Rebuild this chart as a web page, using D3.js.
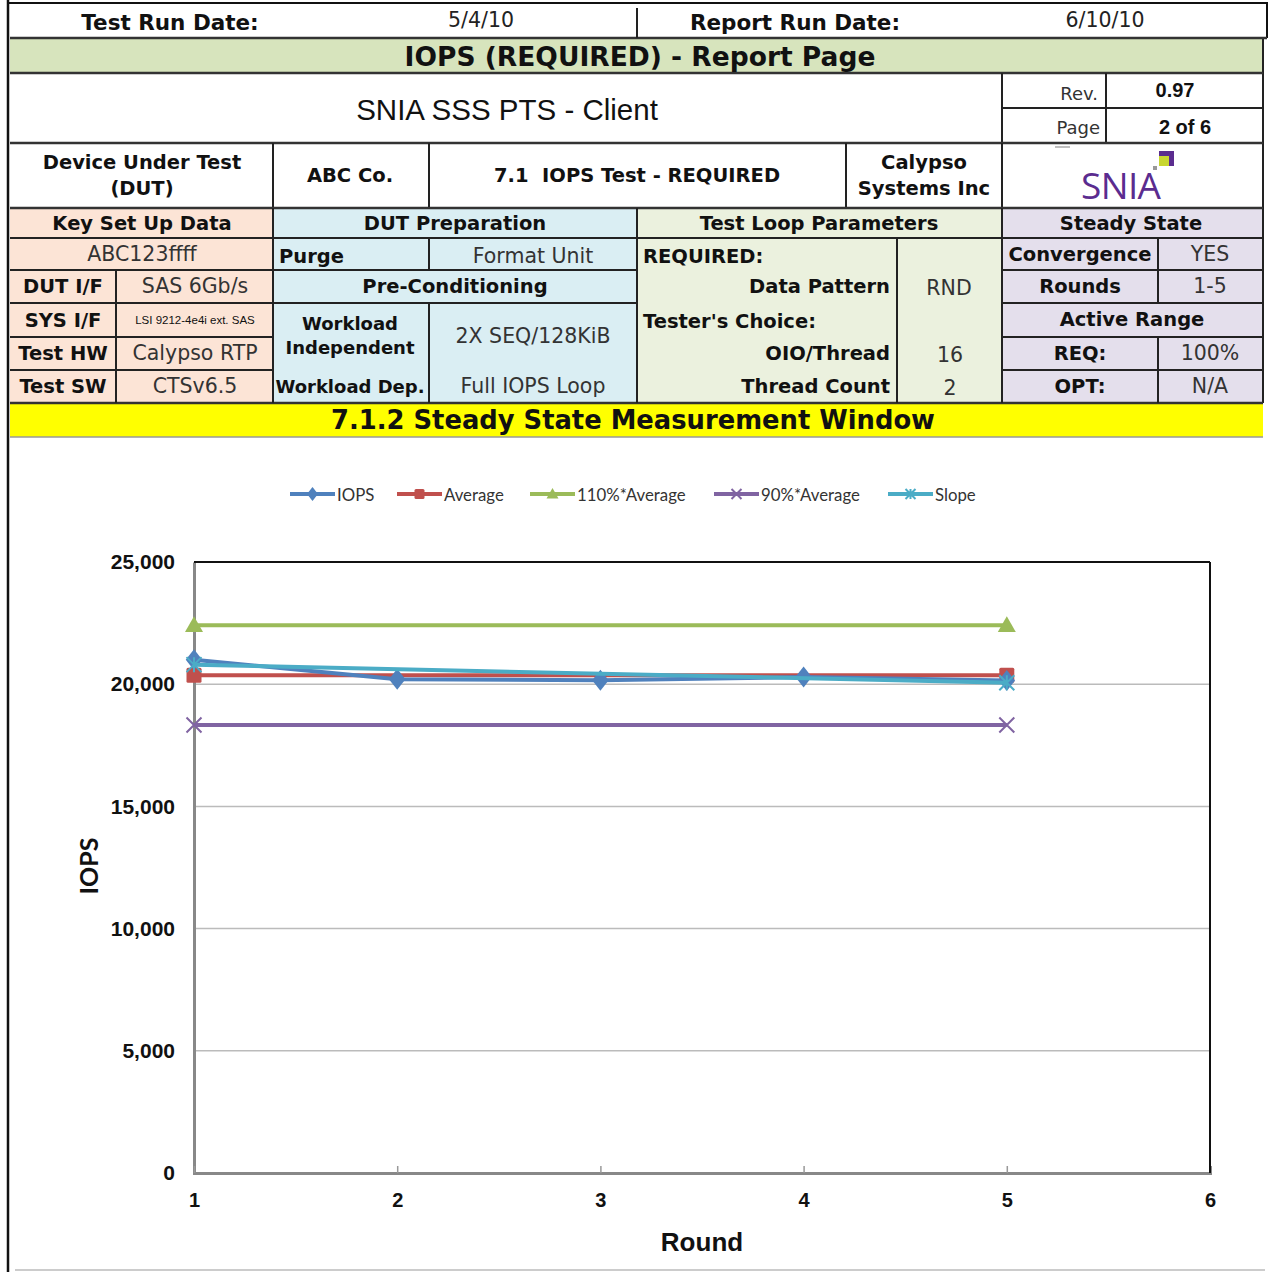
<!DOCTYPE html>
<html><head><meta charset="utf-8">
<script src="https://cdn.jsdelivr.net/npm/d3@7"></script>
<style>body{margin:0;background:#fff}svg{display:block}text{white-space:pre}</style>
</head><body><svg id="c" width="1270" height="1272"></svg>
<script>
// ---- chart data ----
const rounds = [1, 2, 3, 4, 5];
const iops = [21000, 20200, 20160, 20290, 20150];
const endRounds = [1, 5];
const average = [20370, 20370];
const avg110 = [22407, 22407];
const avg90 = [18333, 18333];
const slope = [20800, 20060];
const seriesNames = ["IOPS", "Average", "110%*Average", "90%*Average", "Slope"];
const yTicks = [0, 5000, 10000, 15000, 20000, 25000];
const xTicks = [1, 2, 3, 4, 5, 6];

const svg = d3.select("#c");
const VER = "'DejaVu Sans', Verdana, sans-serif";
const ARI = "'Liberation Sans', Arial, sans-serif";
const NAR = "'Liberation Sans Narrow', 'Liberation Sans', Arial, sans-serif";
const CAL = "Lato, 'Open Sans', sans-serif";

function rect(x, y, w, h, fill) { svg.append("rect").attr("x", x).attr("y", y).attr("width", w).attr("height", h).attr("fill", fill); }
function line(x1, y1, x2, y2, c, w) { svg.append("line").attr("x1", x1).attr("y1", y1).attr("x2", x2).attr("y2", y2).attr("stroke", c || "#222").attr("stroke-width", w || 2); }
function txt(x, y, s, o) {
  o = o || {};
  return svg.append("text").attr("x", x).attr("y", y).text(s)
    .attr("font-family", o.f || VER).attr("font-size", o.s || 19.5)
    .attr("font-weight", o.b ? "bold" : "normal")
    .attr("text-anchor", o.a || "middle").attr("dominant-baseline", "central")
    .attr("fill", o.c || "#111");
}

// ---- header table ----
rect(10, 39, 1253, 34, "#D7E4BD");
rect(10, 208, 263, 195, "#FCE4D6");
rect(273, 208, 364, 195, "#DAEEF3");
rect(637, 208, 365, 195, "#EBF1DE");
rect(1002, 208, 261, 195, "#E4DFEC");
rect(10, 403, 1253, 34, "#FFFF00");

// outer borders
line(8, 0, 8, 1272, "#111", 2.5);
line(8, 3, 1268, 3, "#111", 2);
line(1267, 3, 1267, 38, "#111", 2);
line(1263, 38, 1263, 403, "#222", 2);
line(15, 1270, 1265, 1270, "#ccc", 2);

// row lines
line(10, 38, 1267, 38, "#333", 2.5);
line(10, 73, 1263, 73, "#333", 2.5);
line(637, 8, 637, 38);
line(1002, 73, 1002, 143);
line(1106, 73, 1106, 143);
line(1002, 108, 1263, 108);
line(10, 143, 1263, 143, "#333", 2.5);
[273, 429, 846, 1002].forEach(x => line(x, 143, x, 208));
line(10, 208, 1263, 208, "#333", 2.5);
line(10, 238, 1263, 238);
[270, 303].forEach(y => { line(10, y, 637, y); line(1002, y, 1263, y); });
[337, 370].forEach(y => { line(10, y, 273, y); line(1002, y, 1263, y); });
line(10, 403, 1263, 403, "#333", 2.5);
line(10, 437, 1263, 437, "#999", 1.5);
[273, 637, 1002].forEach(x => line(x, 208, x, 403));
line(116, 270, 116, 403);
line(429, 238, 429, 270);
line(429, 303, 429, 403);
line(897, 238, 897, 403);
line(1158, 238, 1158, 303);
line(1158, 337, 1158, 403);

// row texts
txt(170, 22, "Test Run Date:", {b: 1, s: 21.5});
txt(481, 20, "5/4/10", {s: 20.5, c: "#222"});
txt(795, 22, "Report Run Date:", {b: 1, s: 21.5});
txt(1105, 20, "6/10/10", {s: 20.5, c: "#222"});
txt(640, 56, "IOPS (REQUIRED) - Report Page", {b: 1, s: 26.5});
txt(507, 109, "SNIA SSS PTS - Client", {f: ARI, s: 29.5});
txt(1098, 93, "Rev.", {a: "end", s: 18, c: "#333"});
txt(1175, 90, "0.97", {f: ARI, b: 1, s: 20});
txt(1100, 127, "Page", {a: "end", s: 18, c: "#333"});
txt(1185, 127, "2 of 6", {f: ARI, b: 1, s: 20});
txt(142, 162, "Device Under Test", {b: 1});
txt(142, 188, "(DUT)", {b: 1});
txt(350, 175, "ABC Co.", {b: 1});
txt(637, 175, "7.1  IOPS Test - REQUIRED", {b: 1});
txt(924, 162, "Calypso", {b: 1});
txt(924, 188, "Systems Inc", {b: 1});
// SNIA logo
svg.append("text").attr("x", 1121).attr("y", 199).text("SNIA").attr("font-family", "'Open Sans', Lato, sans-serif")
  .attr("font-size", 37).attr("text-anchor", "middle").attr("fill", "#5B2C8F").attr("textLength", 80);
rect(1159, 151, 15, 15, "#5B2C8F");
rect(1159, 156, 10, 10, "#C8D630");
rect(1153, 166, 4, 4, "#999");
line(1055, 147, 1070, 147, "#aaa", 1.5);

// section contents
const V = {s: 20.5, c: "#333"};
txt(142, 223, "Key Set Up Data", {b: 1});
txt(142, 254, "ABC123ffff", V);
txt(63, 286, "DUT I/F", {b: 1});
txt(195, 286, "SAS 6Gb/s", V);
txt(63, 320, "SYS I/F", {b: 1});
txt(195, 320, "LSI 9212-4e4i ext. SAS", {f: ARI, s: 11.5});
txt(63, 353, "Test HW", {b: 1});
txt(195, 353, "Calypso RTP", V);
txt(63, 386, "Test SW", {b: 1});
txt(195, 386, "CTSv6.5", V);

txt(455, 223, "DUT Preparation", {b: 1});
txt(279, 256, "Purge", {b: 1, a: "start"});
txt(533, 256, "Format Unit", V);
txt(455, 286, "Pre-Conditioning", {b: 1});
txt(350, 323, "Workload", {b: 1, s: 18});
txt(350, 347, "Independent", {b: 1, s: 18});
txt(533, 336, "2X SEQ/128KiB", V);
txt(350, 386, "Workload Dep.", {b: 1, s: 18});
txt(533, 386, "Full IOPS Loop", V);

txt(819, 223, "Test Loop Parameters", {b: 1});
txt(643, 256, "REQUIRED:", {b: 1, a: "start"});
txt(890, 286, "Data Pattern", {b: 1, a: "end"});
txt(949, 288, "RND", V);
txt(643, 321, "Tester's Choice:", {b: 1, a: "start"});
txt(890, 353, "OIO/Thread", {b: 1, a: "end"});
txt(950, 355, "16", V);
txt(890, 386, "Thread Count", {b: 1, a: "end"});
txt(950, 388, "2", V);

txt(1131, 223, "Steady State", {b: 1});
txt(1080, 254, "Convergence", {b: 1});
txt(1210, 254, "YES", V);
txt(1080, 286, "Rounds", {b: 1});
txt(1210, 286, "1-5", V);
txt(1132, 319, "Active Range", {b: 1});
txt(1080, 353, "REQ:", {b: 1});
txt(1210, 353, "100%", V);
txt(1080, 386, "OPT:", {b: 1});
txt(1210, 386, "N/A", V);

txt(633, 420, "7.1.2 Steady State Measurement Window", {b: 1, s: 25.8});

// ---- chart ----
const x = d3.scaleLinear().domain([1, 6]).range([194, 1210]);
const y = d3.scaleLinear().domain([0, 25000]).range([1173, 562]);
const g = svg.append("g");

// gridlines
g.selectAll(".grid").data(yTicks.filter(t => t > 0 && t < 25000)).enter().append("line")
  .attr("x1", x(1)).attr("x2", x(6)).attr("y1", d => y(d)).attr("y2", d => y(d))
  .attr("stroke", "#bbb").attr("stroke-width", 1.5);
line(x(1), y(25000), x(6), y(25000), "#111", 2);
line(x(6), y(25000), x(6), y(0), "#111", 2);

// axes
const yAxis = g.append("g").attr("transform", `translate(${x(1)},0)`)
  .call(d3.axisLeft(y).tickValues(yTicks).tickFormat(d3.format(",")).tickSize(0).tickPadding(19));
yAxis.select(".domain").attr("stroke", "#888").attr("stroke-width", 3);
yAxis.selectAll("text").attr("font-family", ARI).attr("font-weight", "bold").attr("font-size", 21).attr("fill", "#111");

const xAxis = g.append("g").attr("transform", `translate(0,${y(0)})`)
  .call(d3.axisBottom(x).tickValues(xTicks).tickFormat(d3.format("d")).tickSize(-7).tickPadding(20));
xAxis.select(".domain").attr("stroke", "#888").attr("stroke-width", 3);
xAxis.selectAll(".tick line").attr("stroke", "#999").attr("stroke-width", 1.5);
xAxis.selectAll("text").attr("font-family", NAR).attr("font-weight", "bold").attr("font-size", 20).attr("fill", "#111");

svg.append("text").attr("x", 702).attr("y", 1242).text("Round").attr("font-family", NAR)
  .attr("font-weight", "bold").attr("font-size", 26).attr("text-anchor", "middle").attr("dominant-baseline", "central").attr("fill", "#111");
svg.append("text").attr("transform", "translate(88,866) rotate(-90)").text("IOPS").attr("font-family", CAL)
  .attr("font-weight", "bold").attr("font-size", 25).attr("text-anchor", "middle").attr("dominant-baseline", "central").attr("fill", "#111");

// series
const colors = ["#4F81BD", "#C0504D", "#9BBB59", "#8064A2", "#4BACC6"];
const shapes = ["diamond", "square", "triangle", "x", "star"];
const xs = [rounds, endRounds, endRounds, endRounds, endRounds];
const values = [iops, average, avg110, avg90, slope];

function marker(sel, shape, color, cx, cy, s) {
  if (shape === "diamond") sel.append("path").attr("d", `M${cx},${cy - s * 0.7}L${cx + s * 0.55},${cy}L${cx},${cy + s * 0.7}L${cx - s * 0.55},${cy}Z`).attr("fill", color);
  else if (shape === "square") sel.append("rect").attr("x", cx - s / 2).attr("y", cy - s / 2).attr("width", s).attr("height", s).attr("rx", 1.5).attr("fill", color);
  else if (shape === "triangle") sel.append("path").attr("d", `M${cx},${cy - s * 0.6}L${cx + s * 0.6},${cy + s * 0.45}L${cx - s * 0.6},${cy + s * 0.45}Z`).attr("fill", color);
  else if (shape === "x") sel.append("path").attr("d", `M${cx - s / 2},${cy - s / 2}L${cx + s / 2},${cy + s / 2}M${cx - s / 2},${cy + s / 2}L${cx + s / 2},${cy - s / 2}`).attr("stroke", color).attr("stroke-width", 2);
  else if (shape === "star") sel.append("path").attr("d", `M${cx - s / 2},${cy - s / 2}L${cx + s / 2},${cy + s / 2}M${cx - s / 2},${cy + s / 2}L${cx + s / 2},${cy - s / 2}M${cx},${cy - s / 2}L${cx},${cy + s / 2}`).attr("stroke", color).attr("stroke-width", 2);
}

const order = [2, 3, 1, 0, 4];
const lineGen = d3.line().x(d => x(d[0])).y(d => y(d[1]));
order.forEach(i => {
  const pts = xs[i].map((r, k) => [r, values[i][k]]);
  const sg = g.append("g");
  sg.append("path").attr("d", lineGen(pts)).attr("fill", "none").attr("stroke", colors[i]).attr("stroke-width", 4).attr("stroke-linejoin", "round");
  pts.forEach(p => marker(sg, shapes[i], colors[i], x(p[0]), y(p[1]), 15));
});

// legend
const legX = [290, 397, 530, 714, 888];
seriesNames.forEach((n, i) => {
  const lg = svg.append("g");
  lg.append("line").attr("x1", legX[i]).attr("x2", legX[i] + 45).attr("y1", 494).attr("y2", 494).attr("stroke", colors[i]).attr("stroke-width", 4);
  marker(lg, shapes[i], colors[i], legX[i] + 22.5, 494, 10);
  lg.append("text").attr("x", legX[i] + 47).attr("y", 494).text(n).attr("font-family", CAL).attr("font-size", 16.8)
    .attr("dominant-baseline", "central").attr("fill", "#333");
});
</script></body></html>
